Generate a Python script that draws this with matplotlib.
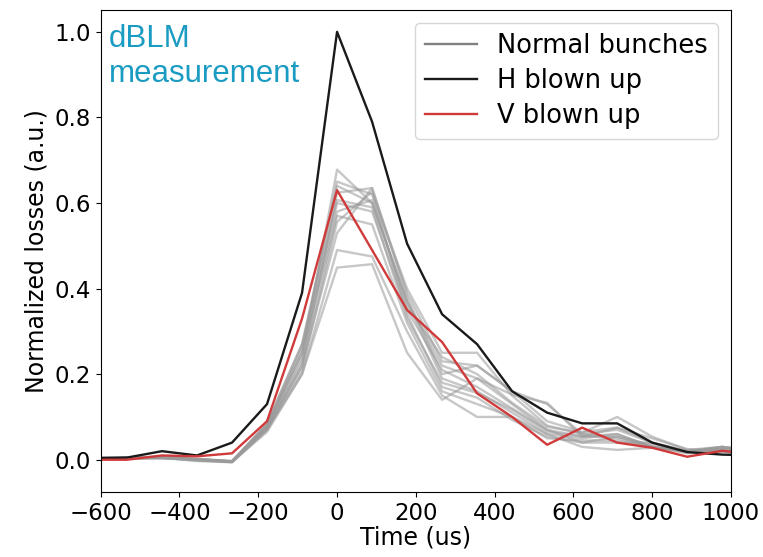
import numpy as np
import matplotlib
matplotlib.use('Agg')
import matplotlib.pyplot as plt
from matplotlib.lines import Line2D

# Sample times: bins of 800/9 us, k = -7 .. 12
time_us = np.arange(-7, 13) * 800 / 9

# Normal bunches (grey)
normal = [
    [0.004, 0.004, 0.006, 0.002, -0.004, 0.075, 0.24, 0.678, 0.60, 0.37, 0.22, 0.19, 0.13, 0.07, 0.055, 0.06, 0.03, 0.02, 0.025, 0.015],
    [0.006, 0.005, 0.004, 0.000, -0.005, 0.08, 0.26, 0.65, 0.62, 0.40, 0.25, 0.25, 0.15, 0.08, 0.06, 0.07, 0.04, 0.02, 0.03, 0.02],
    [0.003, 0.002, 0.005, -0.003, -0.006, 0.07, 0.22, 0.624, 0.635, 0.38, 0.20, 0.22, 0.16, 0.09, 0.065, 0.075, 0.05, 0.025, 0.02, 0.015],
    [0.005, 0.004, 0.003, 0.001, -0.004, 0.085, 0.27, 0.607, 0.59, 0.33, 0.18, 0.156, 0.117, 0.066, 0.054, 0.054, 0.03, 0.015, 0.019, 0.012],
    [0.004, 0.006, 0.007, 0.002, -0.003, 0.08, 0.25, 0.58, 0.607, 0.36, 0.24, 0.20, 0.133, 0.077, 0.063, 0.10, 0.054, 0.023, 0.03, 0.02],
    [0.002, 0.003, 0.004, -0.002, -0.005, 0.07, 0.21, 0.556, 0.626, 0.34, 0.17, 0.145, 0.093, 0.054, 0.04, 0.04, 0.04, 0.016, 0.02, 0.01],
    [0.005, 0.004, 0.006, 0.001, -0.004, 0.075, 0.22, 0.53, 0.635, 0.39, 0.23, 0.22, 0.16, 0.13, 0.06, 0.05, 0.03, 0.02, 0.025, 0.015],
    [0.004, 0.003, 0.005, 0.000, -0.006, 0.07, 0.20, 0.49, 0.475, 0.30, 0.15, 0.10, 0.10, 0.06, 0.03, 0.023, 0.028, 0.02, 0.03, 0.02],
    [0.003, 0.004, 0.004, -0.001, -0.005, 0.065, 0.20, 0.449, 0.457, 0.25, 0.14, 0.19, 0.152, 0.133, 0.054, 0.075, 0.04, 0.02, 0.019, 0.015],
    [0.005, 0.005, 0.006, 0.001, -0.003, 0.08, 0.25, 0.60, 0.58, 0.35, 0.21, 0.17, 0.12, 0.07, 0.04, 0.054, 0.035, 0.02, 0.025, 0.02],
    [0.004, 0.004, 0.005, 0.000, -0.004, 0.085, 0.27, 0.64, 0.60, 0.37, 0.19, 0.16, 0.11, 0.06, 0.05, 0.06, 0.03, 0.018, 0.03, 0.02],
    [0.005, 0.004, 0.005, 0.001, -0.004, 0.075, 0.23, 0.57, 0.55, 0.32, 0.16, 0.13, 0.10, 0.05, 0.045, 0.045, 0.028, 0.02, 0.025, 0.015],
]

# H blown up (black)
h_blown = [0.003, 0.005, 0.02, 0.01, 0.04, 0.13, 0.39, 1.0, 0.79, 0.505, 0.34, 0.27, 0.16, 0.11, 0.085, 0.085, 0.04, 0.018, 0.012, 0.01]

# V blown up (red)
v_blown = [0.0, 0.0, 0.01, 0.008, 0.015, 0.09, 0.33, 0.63, 0.49, 0.35, 0.275, 0.155, 0.10, 0.035, 0.075, 0.04, 0.028, 0.007, 0.021, 0.012]

fig = plt.figure(figsize=(7.63, 5.57), dpi=100)
ax = fig.add_axes([0.132, 0.117, 0.826, 0.865])

for series in normal:
    ax.plot(time_us, series, color='#9a9a9a', alpha=0.55, lw=1.7)
ax.plot(time_us, h_blown, color='#1a1a1a', lw=1.7)
ax.plot(time_us, v_blown, color='#d03a3a', lw=1.7)

ax.set_xlim(-600, 1000)
ax.set_ylim(-0.075, 1.051)
ax.set_xticks(np.arange(-600, 1001, 200))
ax.set_yticks(np.arange(0, 1.01, 0.2))
ax.tick_params(labelsize=16.5)
ax.set_xlabel('Time (us)', fontsize=17, labelpad=1)
ax.set_ylabel('Normalized losses (a.u.)', fontsize=17)

handles = [Line2D([], [], color='grey', lw=1.7),
           Line2D([], [], color='#1a1a1a', lw=1.7),
           Line2D([], [], color='#d03a3a', lw=1.7)]
ax.legend(handles, ['Normal bunches', 'H blown up', 'V blown up'],
          loc='upper right', fontsize=18.5, labelspacing=0.35)

ax.text(0.013, 0.97, 'dBLM\nmeasurement', transform=ax.transAxes,
        ha='left', va='top', fontsize=22.5, color='#1a9bc2',
        family=['Liberation Sans', 'DejaVu Sans'])

fig.savefig('out.png', dpi=100)
